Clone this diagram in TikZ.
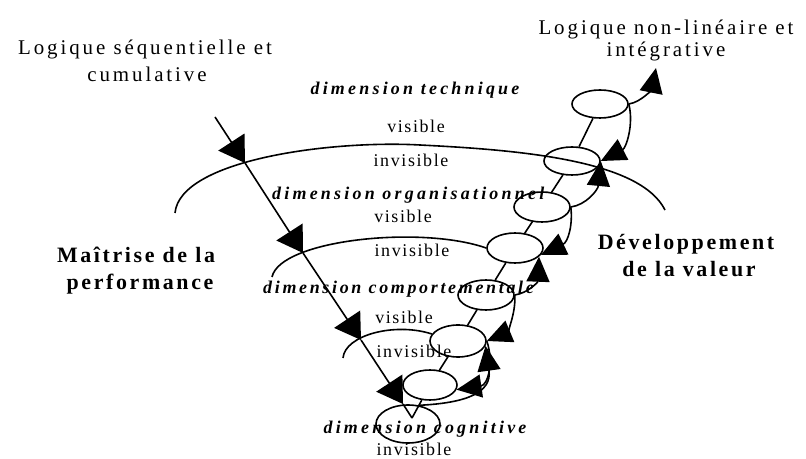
\documentclass[tikz,border=0pt]{standalone}
\usepackage{fontspec}
\setmainfont{Liberation Serif}
\newfontfamily\spA[LetterSpace=14]{Liberation Serif}
\newfontfamily\spC[LetterSpace=12]{Liberation Serif}
\newfontfamily\spD[LetterSpace=18]{Liberation Serif}
\newfontfamily\spE[LetterSpace=15]{Liberation Serif}
\newfontfamily\spB[LetterSpace=9]{Liberation Serif}
\usetikzlibrary{arrows.meta,shapes.geometric}
\begin{document}
\begin{tikzpicture}[x=1bp,y=-1bp,
  ln/.style={line width=1.6bp},
  bigtip/.style={-{Triangle[length=25bp,width=31bp]}},
  smtip/.style={-{Triangle[length=25bp,width=23bp]}},
  ell/.style={draw,ellipse,line width=1.6bp,inner sep=0pt,minimum width=56bp,minimum height=30bp},
  titlet/.style={font=\spA\fontsize{21}{24}\selectfont,anchor=base,inner sep=0pt},
  boldt/.style={font=\spC\bfseries\fontsize{22}{26}\selectfont,anchor=base,inner sep=0pt},
  dimt/.style={font=\spD\bfseries\itshape\fontsize{18}{21}\selectfont,anchor=base,inner sep=0pt},
  dimtn/.style={font=\spE\bfseries\itshape\fontsize{18}{21}\selectfont,anchor=base,inner sep=0pt},
  vist/.style={font=\spB\fontsize{18}{21}\selectfont,anchor=base,inner sep=0pt},
]
\useasboundingbox (0,0) rectangle (806,459);

% texts
\node[titlet] (t1) at (145,55) {Logique séquentielle et};
\node[titlet] (t2) at (147,82) {cumulative};
\node[titlet] (t3) at (666,35) {Logique non-linéaire et};
\node[titlet] (t4) at (666,57) {intégrative};
\node[boldt] (b1) at (136,263) {Maîtrise de la};
\node[boldt] (b2) at (140,290) {performance};
\node[boldt] (b3) at (686,250) {Développement};
\node[boldt] (b4) at (689,277) {de la valeur};

\node[dimt] (d1) at (415,95) {dimension technique};
\begin{scope}
\clip (0,0) rectangle (544,459);
\node[dimt,anchor=base west] (d2) at (272,200) {dimension organisationnelle};
\end{scope}
\node[dimtn,anchor=base west] (d3) at (263,294) {dimension comportementale};
\node[dimt] (d4) at (425,433) {dimension cognitive};

\node[vist] (v1) at (416,133) {visible};
\node[vist] (i1) at (411,167) {invisible};
\node[vist] (v2) at (403,223) {visible};
\node[vist] (i2) at (412,257) {invisible};
\node[vist] (v3) at (404,324) {visible};
\node[vist] (i3) at (414,358) {invisible};
\node[vist] (i4) at (414,455) {invisible};

% ellipses
\node[ell,minimum width=64bp,minimum height=38bp] (e0) at (408,424) {};
\node[ell,minimum width=54bp] (e1) at (430,385) {};
\node[ell,minimum height=32bp] (e2) at (458,341) {};
\node[ell] (e3) at (486,295) {};
\node[ell] (e4) at (515,248) {};
\node[ell] (e5) at (542,207) {};
\node[ell,minimum height=28bp] (e6) at (572,161) {};
\node[ell,minimum height=28bp] (e7) at (600,104) {};

% spine
\draw[ln] (e1) -- (e2);
\draw[ln] (e2) -- (e3);
\draw[ln] (e3) -- (e4);
\draw[ln] (e4) -- (e5);
\draw[ln] (e5) -- (e6);
\draw[ln] (e6) -- (e7);

% arcs
\coordinate (a1s) at (175,213);
\coordinate (a1m) at (420,145);
\coordinate (a1e) at (665,210);
\draw[ln] (a1s) .. controls (180,160) and (330,140) .. (a1m)
  .. controls (520,150) and (640,160) .. (a1e);
\coordinate (a2s) at (272,277);
\draw[ln] (a2s) .. controls (280,240) and (420,225) .. (e4.west);
\coordinate (a3s) at (343,358);
\draw[ln] (a3s) .. controls (345,335) and (395,322) .. (e2.165);

% straight line
\coordinate (s) at (215,117);
\coordinate (p1) at (245,163);
\coordinate (p2) at (303,253);
\coordinate (p3) at (361,340);
\coordinate (p4) at (403,404);
\coordinate (v) at (412,418);
\draw[ln,bigtip] (s) -- (p1);
\draw[ln,bigtip] (p1) -- (p2);
\draw[ln,bigtip] (p2) -- (p3);
\draw[ln,bigtip] (p3) -- (p4);
\draw[ln] (p4) -- (v);
\draw[ln] (v) -- (e1);

% curved arrows
\coordinate (out) at (656,68);
\draw[ln,smtip] (e7.east) .. controls (642,102) and (652,88) .. (out);
\draw[ln,smtip] (e7.east) .. controls (634,125) and (626,148) .. (e6.east);
\draw[ln,smtip] (e5.east) .. controls (586,205) and (598,190) .. (e6.east);
\draw[ln,smtip] (e5.east) .. controls (573,225) and (568,242) .. (e4.-15);
\draw[ln,smtip] (e3.east) .. controls (528,293) and (538,282) .. (e4.-20);
\draw[ln,smtip] (e3.east) .. controls (516,315) and (506,333) .. (e2.east);
\draw[ln,smtip] (e2.east) .. controls (494,362) and (488,385) .. (e1.-10);
\draw[ln,smtip] (e0.60) .. controls (468,403) and (492,392) .. (e2.-10);
\end{tikzpicture}
\end{document}
